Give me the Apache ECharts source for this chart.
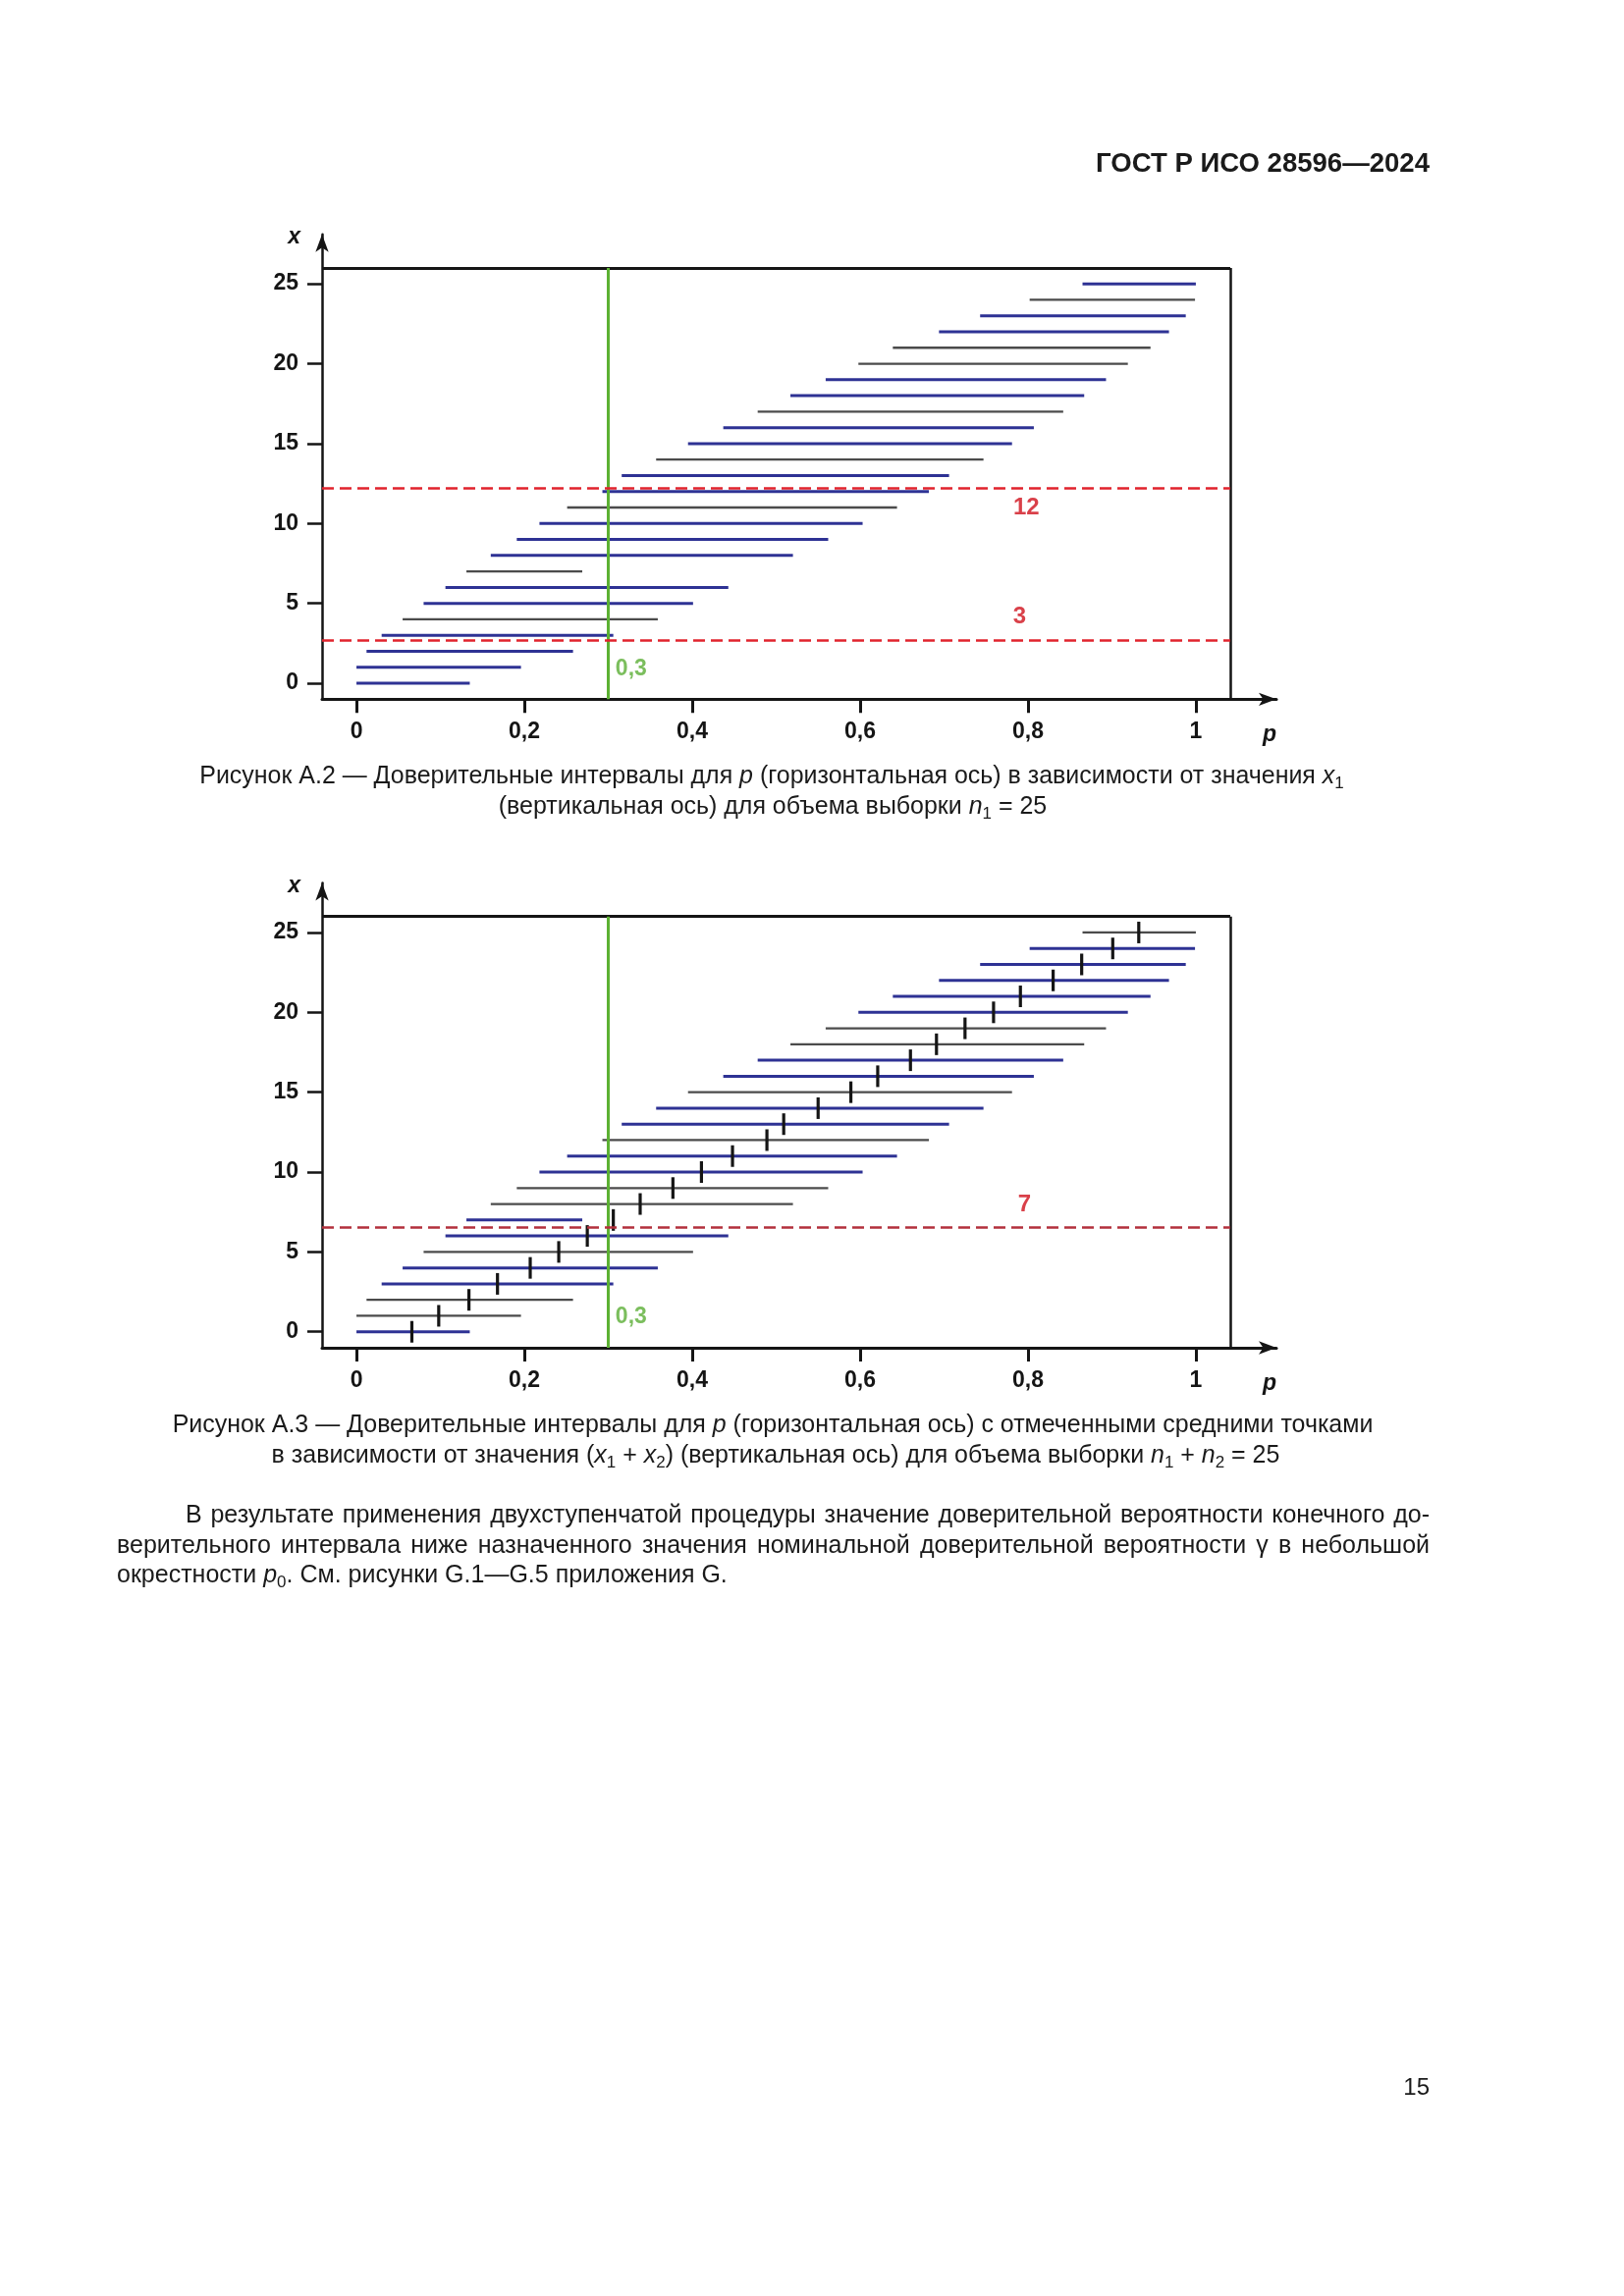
<!DOCTYPE html>
<html>
<head>
<meta charset="utf-8">
<script src="https://cdn.jsdelivr.net/npm/echarts@6/dist/echarts.min.js"></script>
<style>
  html,body{margin:0;padding:0;background:#fff;}
  #page{position:relative;width:1654px;height:2339px;background:#fff;overflow:hidden;}
  #chart{position:absolute;left:0;top:0;width:1654px;height:2339px;}
  .ln{position:absolute;white-space:nowrap;font-family:"Liberation Sans",Arial,sans-serif;color:#1a1a1a;line-height:1;}
  .ln span.m{display:inline-block;}
  .ln sub{font-size:0.68em;vertical-align:-0.3em;line-height:0;}
  .jus{text-align:justify;text-align-last:justify;}
</style>
</head>
<body>
<div id="page">
  <div id="chart"></div>
  <div class="ln" id="hdr" style="font-weight:bold"><span class="m">ГОСТ Р ИСО 28596—2024</span></div>
  <div class="ln" id="c1a"><span class="m">Рисунок А.2 — Доверительные интервалы для <i>p</i> (горизонтальная ось) в зависимости от значения <i>x</i><sub>1</sub></span></div>
  <div class="ln" id="c1b"><span class="m">(вертикальная ось) для объема выборки <i>n</i><sub>1</sub> = 25</span></div>
  <div class="ln" id="c2a"><span class="m">Рисунок А.3 — Доверительные интервалы для <i>p</i> (горизонтальная ось) с отмеченными средними точками</span></div>
  <div class="ln" id="c2b"><span class="m">в зависимости от значения (<i>x</i><sub>1</sub> + <i>x</i><sub>2</sub>) (вертикальная ось) для объема выборки <i>n</i><sub>1</sub> + <i>n</i><sub>2</sub> = 25</span></div>
  <div class="ln jus" id="pa">В результате применения двухступенчатой процедуры значение доверительной вероятности конечного до-</div>
  <div class="ln jus" id="pb">верительного интервала ниже назначенного значения номинальной доверительной вероятности γ в небольшой</div>
  <div class="ln" id="pc"><span class="m">окрестности <i>p</i><sub>0</sub>. См. рисунки G.1—G.5 приложения G.</span></div>
  <div class="ln" id="pg"><span class="m">15</span></div>
</div>
<script>
// ---------------- data ----------------
const rowX   = [0,1,2,3,4,5,6,7,8,9,10,11,12,13,14,15,16,17,18,19,20,21,22,23,24,25];
const lowerP = [0,0,0.012,0.030,0.055,0.080,0.106,0.131,0.160,0.191,0.218,0.251,0.293,0.316,0.357,0.395,0.437,0.478,0.517,0.559,0.598,0.639,0.694,0.743,0.802,0.865];
const upperP = [0.135,0.196,0.258,0.306,0.359,0.401,0.443,0.269,0.520,0.562,0.603,0.644,0.682,0.706,0.747,0.781,0.807,0.842,0.867,0.893,0.919,0.946,0.968,0.988,0.999,1.0];
const midP   = [0.066,0.098,0.134,0.168,0.207,0.241,0.275,0.306,0.338,0.377,0.411,0.448,0.489,0.509,0.550,0.589,0.621,0.660,0.691,0.725,0.759,0.791,0.830,0.864,0.901,0.932];
const fig1Tone = ['b','b','b','b','g','b','b','g','b','b','b','g','b','b','g','b','b','g','b','b','g','g','b','b','g','b'];
const fig2Tone = ['b','g','g','b','b','g','b','b','g','g','b','b','g','b','b','g','b','b','g','g','b','b','b','b','b','g'];
const xTicks = [0,0.2,0.4,0.6,0.8,1];
const yTicks = [0,5,10,15,20,25];
const p0 = 0.3;
const fig1Levels = [12.22, 2.66];
const fig2Levels = [6.56];
const fig1NoteText = ['12','3'];
const fig1NoteP    = [0.798, 0.790];
const fig1NoteX    = [11.0, 4.16];
const fig2NoteText = ['7'];
const fig2NoteP    = [0.796];
const fig2NoteX    = [7.93];
const p0Text = '0,3';
const p0LabelP = 0.308, p0LabelX = 0.9;
// axis / frame extents
const xMin = -0.041, xFrameMax = 1.041, xAxisMax = 1.096;
const yMin = -1, yFrameMax = 26, yAxisMax = 28.1;

// ---------------- text layout ----------------
const FONT = '"Liberation Sans", Arial, sans-serif';
function fitSize(el, targetW){
  el.style.fontSize = '20px';
  const w = el.querySelector('.m').getBoundingClientRect().width;
  return 20 * targetW / w;
}
function place(el, fs, cy, opts){
  el.style.fontSize = fs + 'px';
  el.style.top = (cy - 0.5465*fs) + 'px';
  if (opts.center !== undefined){
    const w = el.querySelector('.m').getBoundingClientRect().width;
    el.style.left = (opts.center - w/2) + 'px';
  } else if (opts.right !== undefined){
    const w = el.querySelector('.m').getBoundingClientRect().width;
    el.style.left = (opts.right - w) + 'px';
  } else {
    el.style.left = opts.left + 'px';
    if (opts.width) el.style.width = opts.width + 'px';
  }
}
const $ = id => document.getElementById(id);
const hfs = fitSize($('hdr'), 340);
place($('hdr'), hfs, 167.5, {right:1456});
const c1 = fitSize($('c1a'), 1166);
place($('c1a'), c1, 790.5, {center:786});
place($('c1b'), c1, 822, {center:787});
const c2 = fitSize($('c2a'), 1223);
place($('c2a'), c2, 1451.2, {center:787});
place($('c2b'), c2, 1482.6, {center:790});
const pf = fitSize($('pc'), 622);
place($('pa'), pf, 1543.7, {left:189, width:1267});
place($('pb'), pf, 1575, {left:119, width:1337});
place($('pc'), pf, 1604.9, {left:119});
place($('pg'), 24, 2127, {right:1456});

// ---------------- chart ----------------
const chart = echarts.init(document.getElementById('chart'), null, {renderer:'canvas'});
const INK = '#151515';
const labelFont = {fontFamily: FONT, fontSize: 23, fontWeight: 'bold', color: INK};

function renderInterval(params, api){
  const y = api.value(2);
  const a = api.coord([api.value(0), y]);
  const b = api.coord([api.value(1), y]);
  const blue = api.value(3) === 0;
  return {type:'line', shape:{x1:a[0], y1:a[1], x2:b[0], y2:b[1]},
          style:{stroke: blue ? '#2e3294' : '#4b4b4b', lineWidth: blue ? 3 : 2.3}};
}

function axesFor(g){
  const x = {
    gridIndex:g, type:'value', min:xMin, max:xAxisMax,
    axisLine:{show:true, onZero:false, symbol:['none','arrow'], symbolSize:[10,18], lineStyle:{color:INK, width:3}},
    axisTick:{show:true, customValues:xTicks, length:14, lineStyle:{color:INK, width:3}},
    axisLabel:Object.assign({show:true, customValues:xTicks, margin:22,
      formatter: v => String(Math.round(v*10)/10).replace('.', ',')}, labelFont),
    splitLine:{show:false},
    name:'p', nameLocation:'end', nameGap:0,
    nameTextStyle:{fontFamily:FONT, fontSize:23, fontWeight:'bold', fontStyle:'italic', color:INK,
                   align:'right', verticalAlign:'top', padding:[25,0,0,0]}
  };
  const y = {
    gridIndex:g, type:'value', min:yMin, max:yAxisMax,
    axisLine:{show:true, onZero:false, symbol:['none','arrow'], symbolSize:[10,18], lineStyle:{color:INK, width:2.5}},
    axisTick:{show:true, customValues:yTicks, length:15, lineStyle:{color:INK, width:2.5}},
    axisLabel:Object.assign({show:true, customValues:yTicks, margin:24}, labelFont),
    splitLine:{show:false},
    name:'x', nameLocation:'end', nameGap:-3,
    nameTextStyle:{fontFamily:FONT, fontSize:23, fontWeight:'bold', fontStyle:'italic', color:INK,
                   align:'right', verticalAlign:'middle', padding:[0,22,0,0]}
  };
  return {x, y};
}

function seg(x1, y1, x2, y2, style){
  return [{coord:[x1,y1], lineStyle:style}, {coord:[x2,y2]}];
}

function figureSeries(g, tone, levels, levelColor, noteText, noteP, noteX, withMid){
  const series = [];
  series.push({
    type:'custom', xAxisIndex:g, yAxisIndex:g, z:2, silent:true,
    renderItem: renderInterval,
    encode:{x:[0,1], y:2},
    data: rowX.map((x,i) => [lowerP[i], upperP[i], x, tone[i]==='b' ? 0 : 1])
  });
  const marks = [
    seg(xMin, yFrameMax, xFrameMax, yFrameMax, {color:INK, width:3, type:'solid'}),
    seg(xFrameMax, yMin, xFrameMax, yFrameMax, {color:INK, width:2.5, type:'solid'}),
    seg(p0, yMin, p0, yFrameMax, {color:'#5cb133', width:3, type:'solid'})
  ];
  levels.forEach(lv => marks.push(seg(xMin, lv, xFrameMax, lv, {color:levelColor, width:2.5, type:[12,6]})));
  const notes = noteText.map((t,i) => ({value:[noteP[i], noteX[i]], name:t,
      label:{show:true, position:'inside', formatter:'{b}', fontFamily:FONT, fontSize:24, fontWeight:'bold', color:'#d0101c'}}));
  notes.push({value:[p0LabelP, p0LabelX], name:p0Text,
      label:{show:true, position:'right', distance:0, formatter:'{b}', fontFamily:FONT, fontSize:23, fontWeight:'bold', color:'#5aae35'}});
  series.push({
    type:'scatter', xAxisIndex:g, yAxisIndex:g, z:5, silent:true,
    symbol:'circle', symbolSize:1, itemStyle:{color:'rgba(255,255,255,0)'},
    labelLayout:{hideOverlap:false},
    data: notes,
    markLine:{silent:true, symbol:['none','none'], label:{show:false}, emphasis:{disabled:true}, data: marks}
  });
  if (withMid){
    series.push({
      type:'scatter', xAxisIndex:g, yAxisIndex:g, z:4, silent:true,
      symbol:'rect', symbolSize:[3.2,22], itemStyle:{color:INK, opacity:1},
      data: rowX.map((x,i) => [midP[i], x])
    });
  }
  return series;
}

const a0 = axesFor(0), a1 = axesFor(1);
const option = {
  animation:false,
  backgroundColor:'transparent',
  grid:[
    {left:328, top:238.7, width:972, height:473.6, containLabel:false, outerBoundsMode:'none'},
    {left:328, top:899.5, width:972, height:473.5, containLabel:false, outerBoundsMode:'none'}
  ],
  xAxis:[a0.x, a1.x],
  yAxis:[a0.y, a1.y],
  series: [].concat(
    figureSeries(0, fig1Tone, fig1Levels, '#e1232d', fig1NoteText, fig1NoteP, fig1NoteX, false),
    figureSeries(1, fig2Tone, fig2Levels, '#b3303c', fig2NoteText, fig2NoteP, fig2NoteX, true)
  )
};
chart.setOption(option);
</script>
</body>
</html>
